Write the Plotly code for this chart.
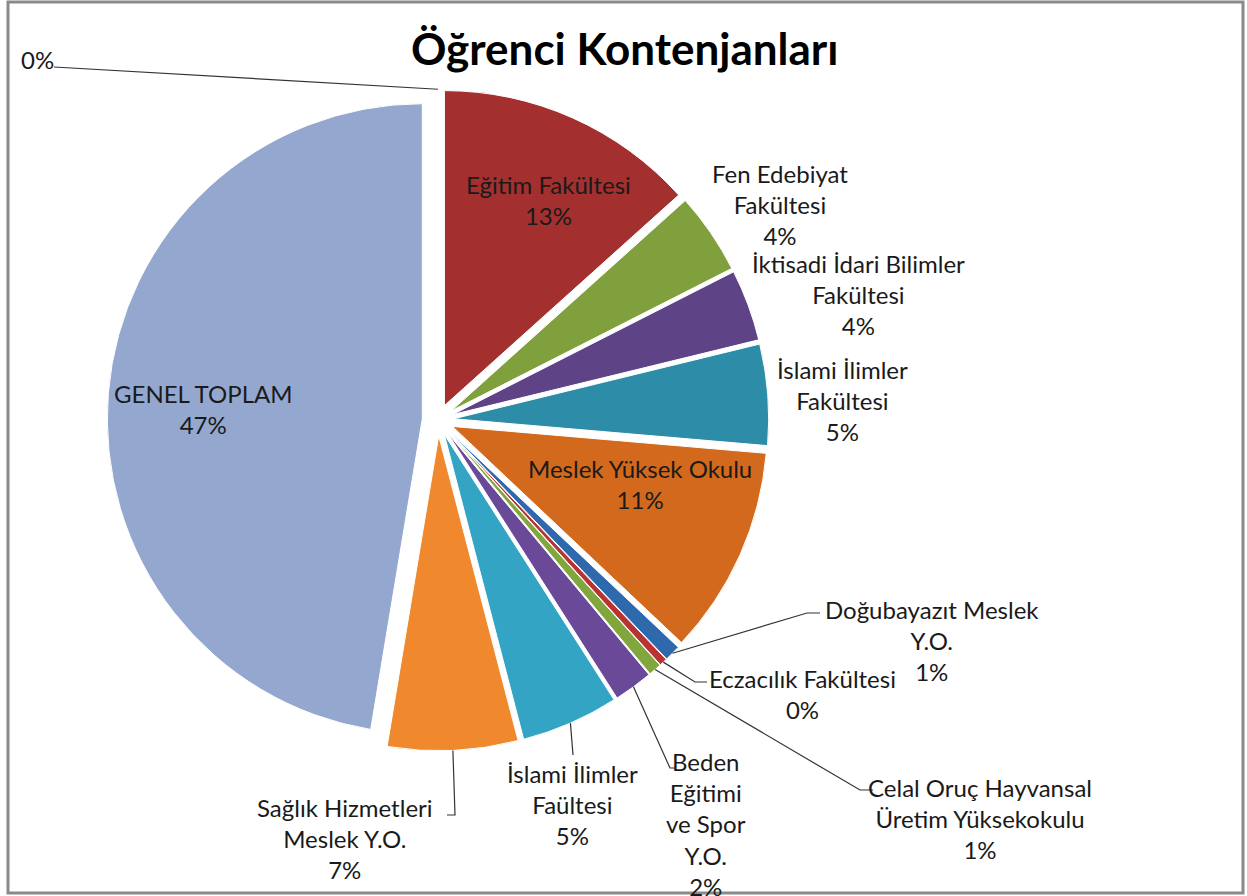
import math
import plotly.graph_objects as go

W, H = 1247, 896

# veri
kategoriler = ['', 'Eğitim Fakültesi', 'Fen Edebiyat Fakültesi', 'İktisadi İdari Bilimler Fakültesi',
               'İslami İlimler Fakültesi', 'Meslek Yüksek Okulu', 'Doğubayazıt Meslek Y.O.',
               'Eczacılık Fakültesi', 'Celal Oruç Hayvansal Üretim Yüksekokulu',
               'Beden Eğitimi ve Spor Y.O.', 'İslami İlimler Faültesi',
               'Sağlık Hizmetleri Meslek Y.O.', 'GENEL TOPLAM']
kontenjan = [0, 400, 125, 110, 155, 320, 25, 12, 20, 60, 150, 200, 1420]
etiketler = ['', 'Eğitim Fakültesi', 'Fen Edebiyat<br>Fakültesi', 'İktisadi İdari Bilimler<br>Fakültesi',
             'İslami İlimler<br>Fakültesi', 'Meslek Yüksek Okulu', 'Doğubayazıt Meslek<br>Y.O.',
             'Eczacılık Fakültesi', 'Celal Oruç Hayvansal<br>Üretim Yüksekokulu',
             'Beden<br>Eğitimi<br>ve Spor<br>Y.O.', 'İslami İlimler<br>Faültesi',
             'Sağlık Hizmetleri<br>Meslek Y.O.', 'GENEL TOPLAM']

renkler = ['#4F81BD', '#A3302F', '#7FA03C', '#5E4487', '#2D8DA9', '#D2691D',
           '#2E69AE', '#B83331', '#80A63D', '#6A4998', '#33A4C4', '#F0892D', '#94A8CF']

# yerlesim (piksel)
cx, cy, r, pull = 438, 420, 315, 0.05
label_pos = [(37, 60), (548, 200), (780, 205), (858, 294), (842, 401), (640, 484),
             (932, 640), (802, 694), (980, 818), (706, 824), (572, 804), (345, 838), (203, 409)]
# indeks: [dirsek, uc]
leaders = {
    0: [(54, 67)],
    6: [(807, 613), (820, 613)],
    7: [(695, 682), (707, 682)],
    8: [(860, 790), (873, 790)],
    9: [(670, 768), (675, 768)],
    10: [(573, 755)],
    11: [(455, 815), (447, 815)],
}

FONT = 'Lato, Carlito, Calibri, sans-serif'


def px(x, y):
    return x / W, 1 - y / H


def slice_anchor(i):
    """dilimin dis kenarindaki orta nokta (piksel)"""
    total = sum(kontenjan)
    start = sum(kontenjan[:i]) / total
    mid = (start + kontenjan[i] / total / 2) * 2 * math.pi
    rr = r * (1 + pull)
    return cx + rr * math.sin(mid), cy - rr * math.cos(mid)


total = sum(kontenjan)
half = r * (1 + pull)
x0, y1 = px(cx - half, cy - half)
x1, y0 = px(cx + half, cy + half)

fig = go.Figure(go.Pie(
    labels=kategoriler,
    values=kontenjan,
    sort=False,
    direction='clockwise',
    rotation=0,
    pull=[pull] * len(kontenjan),
    marker=dict(colors=renkler, line=dict(color='white', width=1)),
    textinfo='none',
    hoverinfo='label+value+percent',
    showlegend=False,
    domain=dict(x=[x0, x1], y=[y0, y1]),
))

annotations = []
for i, v in enumerate(kontenjan):
    pct = f'{v / total * 100:.0f}%'
    text = pct if not etiketler[i] else f'{etiketler[i]}<br>{pct}'
    lx, ly = px(*label_pos[i])
    annotations.append(dict(
        x=lx, y=ly, xref='paper', yref='paper', text=text, showarrow=False,
        xanchor='center', yanchor='middle', align='center',
        font=dict(family=FONT, size=24, color='#1a1a1a'),
    ))

shapes = []
for i, pts in leaders.items():
    ax, ay = slice_anchor(i)
    path = 'M {},{}'.format(*px(ax, ay))
    for p in pts:
        path += ' L {},{}'.format(*px(*p))
    shapes.append(dict(type='path', path=path, xref='paper', yref='paper',
                       line=dict(color='#333333', width=1.2)))

# cerceve
bx0, by0 = px(8, 893)
bx1, by1 = px(1243, 2)
shapes.append(dict(type='rect', xref='paper', yref='paper', x0=bx0, y0=by0, x1=bx1, y1=by1,
                   line=dict(color='#8a8a8a', width=3), fillcolor='rgba(0,0,0,0)'))

fig.update_layout(
    width=W,
    height=H,
    margin=dict(l=0, r=0, t=0, b=0),
    paper_bgcolor='white',
    plot_bgcolor='white',
    title=dict(text='<b>Öğrenci Kontenjanları</b>', x=0.501, xanchor='center',
               y=1 - 50 / H, yanchor='middle',
               font=dict(family=FONT, size=44, color='black')),
    annotations=annotations,
    shapes=shapes,
)

fig.write_html('out.html', config={'displayModeBar': False},
               post_script="document.body.style.margin='0';document.body.style.overflow='hidden';")
